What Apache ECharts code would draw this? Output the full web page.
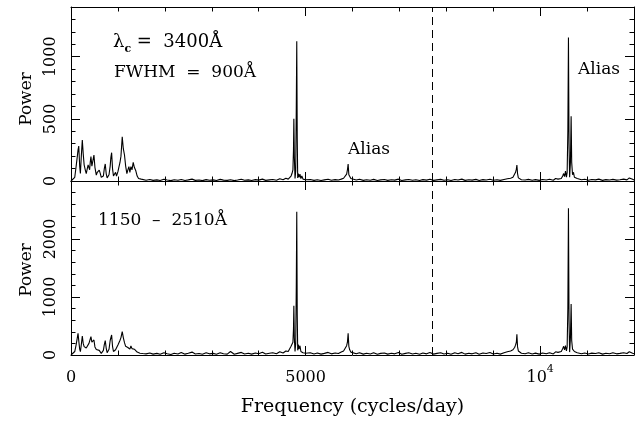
<!DOCTYPE html>
<html>
<head>
<meta charset="utf-8">
<script src="https://cdn.jsdelivr.net/npm/echarts@6/dist/echarts.min.js"></script>
<style>
html, body { margin: 0; padding: 0; background: #fff; }
#chart { width: 644px; height: 424px; }
</style>
</head>
<body>
<div id="chart"></div>
<script>
// frequency grid (cycles/day), shared by both panels
var freq = [
  0, 40, 80, 110, 135, 150, 165, 185, 200, 220,
  241, 260, 280, 305, 325, 347, 365, 383, 397, 410,
  425, 445, 465, 489, 510, 539, 560, 580, 602, 625,
  645, 670, 690, 710, 730, 750, 770, 787, 810, 835,
  850, 866, 885, 905, 928, 950, 970, 1000, 1020, 1043,
  1065, 1092, 1115, 1140, 1165, 1191, 1212, 1234, 1255, 1277,
  1300, 1326, 1350, 1383, 1410, 1440, 1470, 1496, 1530, 1600,
  1680, 1750, 1830, 1900, 1980, 2050, 2130, 2200, 2280, 2350,
  2430, 2500, 2580, 2650, 2730, 2800, 2880, 2950, 3030, 3100,
  3180, 3250, 3330, 3400, 3480, 3550, 3630, 3700, 3780, 3850,
  3930, 4000, 4080, 4150, 4230, 4300, 4380, 4450, 4520, 4580,
  4630, 4660, 4690, 4710, 4730, 4742, 4750, 4760, 4775, 4790,
  4802, 4812, 4822, 4832, 4845, 4860, 4880, 4900, 4920, 4945,
  4970, 5000, 5030, 5100, 5180, 5250, 5330, 5400, 5480, 5550,
  5630, 5700, 5760, 5810, 5850, 5875, 5892, 5907, 5922, 5940,
  5965, 6000, 6080, 6150, 6230, 6300, 6380, 6450, 6530, 6600,
  6680, 6750, 6830, 6900, 6980, 7050, 7130, 7200, 7280, 7350,
  7430, 7500, 7580, 7650, 7730, 7800, 7880, 7950, 8030, 8100,
  8180, 8250, 8330, 8400, 8480, 8550, 8630, 8700, 8780, 8850,
  8930, 9000, 9080, 9150, 9230, 9300, 9370, 9420, 9455, 9475,
  9492, 9504, 9518, 9535, 9560, 9600, 9680, 9750, 9830, 9900,
  9980, 10050, 10130, 10200, 10280, 10330, 10380, 10420, 10450, 10480,
  10500, 10520, 10540, 10560, 10575, 10590, 10603, 10615, 10628, 10645,
  10660, 10672, 10690, 10710, 10730, 10760, 10790, 10820, 10880, 10950,
  11030, 11100, 11180, 11250, 11330, 11400, 11480, 11550, 11630, 11700,
  11780, 11850, 11900, 11930, 11970, 12000
];

// upper panel: lambda_c = 3400A, FWHM = 900A
var powerTop = [
  0, 5, 30, 120, 200, 250, 281, 120, 60, 200,
  330, 220, 130, 88, 60, 100, 130, 142, 90, 150,
  196, 120, 160, 209, 110, 48, 70, 80, 88, 60,
  30, 20, 40, 100, 137, 60, 25, 20, 50, 120,
  190, 228, 100, 40, 40, 70, 40, 75, 110, 147,
  200, 356, 260, 209, 120, 60, 90, 115, 70, 115,
  90, 150, 110, 80, 40, 20, 25, 15, 10, 6,
  12, 5, 9, 4, 14, 8, 3, 10, 6, 12,
  4, 9, 15, 5, 8, 3, 11, 6, 9, 4,
  13, 7, 5, 10, 3, 8, 14, 6, 9, 4,
  11, 7, 15, 5, 9, 12, 6, 18, 10, 22,
  15, 25, 40, 60, 90, 250, 500, 200, 20, 80,
  600, 1125, 350, 25, 60, 30, 55, 20, 40, 15,
  25, 10, 8, 12, 5, 10, 4, 9, 14, 6,
  11, 8, 15, 22, 30, 55, 90, 137, 50, 35,
  20, 12, 8, 14, 5, 10, 6, 13, 4, 9,
  12, 5, 10, 7, 15, 4, 9, 12, 6, 10,
  4, 11, 7, 14, 5, 9, 13, 6, 10, 4,
  12, 8, 15, 5, 10, 7, 13, 4, 11, 8,
  14, 6, 10, 5, 12, 18, 22, 30, 45, 70,
  95, 129, 60, 25, 15, 10, 8, 13, 6, 11,
  5, 12, 8, 14, 6, 20, 15, 25, 20, 40,
  60, 35, 80, 30, 70, 400, 1155, 300, 30, 150,
  520, 150, 50, 70, 30, 45, 20, 15, 10, 14,
  6, 12, 9, 15, 5, 11, 8, 13, 7, 10,
  15, 9, 25, 30, 14, 8
];

// lower panel: 1150 - 2510A
var powerBottom = [
  0, 10, 60, 180, 300, 373, 250, 100, 57, 180,
  327, 200, 144, 144, 120, 86, 150, 200, 230, 200,
  316, 220, 240, 259, 140, 95, 80, 80, 80, 50,
  29, 40, 80, 180, 247, 120, 40, 30, 100, 250,
  300, 345, 150, 60, 40, 90, 100, 172, 150, 250,
  300, 402, 300, 213, 150, 172, 130, 144, 100, 155,
  110, 132, 100, 75, 50, 40, 30, 46, 25, 20,
  35, 15, 28, 12, 40, 22, 10, 30, 18, 45,
  15, 30, 50, 18, 25, 12, 38, 20, 28, 14,
  40, 22, 15, 60, 12, 28, 45, 18, 30, 15,
  35, 22, 48, 16, 30, 40, 20, 55, 35, 70,
  60, 90, 150, 180, 220, 450, 850, 300, 60, 200,
  1200, 2470, 700, 80, 180, 100, 160, 60, 90, 40,
  50, 30, 25, 40, 18, 35, 15, 28, 45, 20,
  35, 25, 50, 70, 90, 160, 220, 374, 150, 90,
  50, 30, 22, 40, 15, 30, 18, 38, 12, 28,
  35, 15, 30, 20, 45, 12, 28, 38, 18, 30,
  14, 35, 20, 42, 15, 28, 40, 18, 30, 12,
  38, 22, 45, 15, 30, 20, 40, 12, 35, 25,
  42, 18, 30, 15, 38, 55, 70, 90, 130, 170,
  220, 357, 140, 70, 40, 30, 22, 38, 18, 32,
  15, 35, 22, 40, 18, 55, 45, 70, 60, 110,
  150, 90, 160, 70, 140, 800, 2530, 600, 50, 300,
  880, 250, 100, 120, 60, 70, 40, 30, 20, 35,
  18, 32, 25, 40, 15, 30, 22, 38, 20, 28,
  40, 25, 55, 60, 30, 20
];

var xRange = [0, 12000];
var topRange = [0, 1400];
var bottomRange = [0, 3000];
var cutoffFreq = 7700; // dashed vertical line

var FONT = 'DejaVu Serif';
var chart = echarts.init(document.getElementById('chart'), null, { renderer: 'canvas' });

function pairs(ys) {
  return freq.map(function (f, i) { return [f, ys[i]]; });
}

function xAxisFor(grid, pos, labels) {
  return {
    type: 'value', gridIndex: grid, position: pos,
    min: xRange[0], max: xRange[1], interval: 5000,
    axisLine: { show: true, onZero: false, lineStyle: { color: '#000', width: 1 } },
    axisTick: { show: true, inside: true, length: 9, lineStyle: { color: '#000' } },
    minorTick: { show: true, splitNumber: 5, length: 4.5, lineStyle: { color: '#000' } },
    splitLine: { show: false },
    axisLabel: {
      show: labels, margin: 9, color: '#000', fontFamily: FONT, fontSize: 16,
      showMaxLabel: false,
      formatter: function (v) { return v === 10000 ? '{b|10}{s|4}' : '{b|' + v + '}'; },
      rich: {
        b: { fontFamily: FONT, fontSize: 16, color: '#000', lineHeight: 22, verticalAlign: 'bottom' },
        s: { fontFamily: FONT, fontSize: 11, color: '#000', lineHeight: 22, verticalAlign: 'top' }
      }
    },
    name: labels ? 'Frequency (cycles/day)' : '',
    nameLocation: 'middle', nameGap: 43,
    nameTextStyle: { color: '#000', fontFamily: FONT, fontSize: 19 }
  };
}

// namePad shifts the rotated "Power" title down a little, as in the original
function yAxisFor(grid, pos, range, interval, labels, namePad) {
  return {
    type: 'value', gridIndex: grid, position: pos,
    min: range[0], max: range[1], interval: interval,
    axisLine: { show: true, onZero: false, lineStyle: { color: '#000', width: 1 } },
    axisTick: { show: true, inside: true, length: 9, lineStyle: { color: '#000' } },
    minorTick: { show: true, splitNumber: 5, length: 4.5, lineStyle: { color: '#000' } },
    splitLine: { show: false },
    axisLabel: {
      show: labels, rotate: 90, margin: 12, showMaxLabel: false,
      color: '#000', fontFamily: FONT, fontSize: 16,
      formatter: function (v) { return String(v); }
    },
    name: labels ? 'Power' : '',
    nameLocation: 'middle', nameGap: 36,
    nameTextStyle: { color: '#000', fontFamily: FONT, fontSize: 17, padding: [0, namePad || 0, 0, 0] }
  };
}

var dashLine = {
  silent: true, symbol: ['none', 'none'], animation: false,
  label: { show: false },
  lineStyle: { color: '#000', width: 1, type: [8, 5] },
  data: [{ xAxis: cutoffFreq }]
};

var option = {
  backgroundColor: '#fff',
  animation: false,
  grid: [
    { left: 71, right: 10, top: 7, height: 174 },
    { left: 71, right: 10, top: 181, height: 174 }
  ],
  xAxis: [
    xAxisFor(0, 'bottom', false),
    xAxisFor(0, 'top', false),
    xAxisFor(1, 'bottom', true),
    xAxisFor(1, 'top', false)
  ],
  yAxis: [
    yAxisFor(0, 'left', topRange, 500, true, 10),
    yAxisFor(0, 'right', topRange, 500, false),
    yAxisFor(1, 'left', bottomRange, 1000, true, 4),
    yAxisFor(1, 'right', bottomRange, 1000, false)
  ],
  series: [
    {
      type: 'line', xAxisIndex: 0, yAxisIndex: 0,
      data: pairs(powerTop), symbol: 'none',
      lineStyle: { color: '#000', width: 1.1 },
      markLine: dashLine
    },
    {
      type: 'line', xAxisIndex: 2, yAxisIndex: 2,
      data: pairs(powerBottom), symbol: 'none',
      lineStyle: { color: '#000', width: 1.1 },
      markLine: dashLine
    }
  ],
  graphic: [
    {
      type: 'text', left: 113, top: 33,
      style: {
        text: '{m|λ}{c|c}{m| =  3400Å}',
        rich: {
          m: { fontFamily: FONT, fontSize: 18, fill: '#000', lineHeight: 26, verticalAlign: 'middle' },
          c: { fontFamily: FONT, fontSize: 11, fontWeight: 'bold', fill: '#000', lineHeight: 26, verticalAlign: 'bottom' }
        }
      }
    },
    { type: 'text', left: 114, top: 64, style: { text: 'FWHM  =  900Å', font: '17px "DejaVu Serif"', fill: '#000' } },
    { type: 'text', left: 348, top: 141, style: { text: 'Alias', font: '17px "DejaVu Serif"', fill: '#000' } },
    { type: 'text', left: 578, top: 61, style: { text: 'Alias', font: '17px "DejaVu Serif"', fill: '#000' } },
    { type: 'text', left: 98, top: 212, style: { text: '1150  –  2510Å', font: '17px "DejaVu Serif"', fill: '#000' } }
  ]
};

chart.setOption(option);
</script>
</body>
</html>
